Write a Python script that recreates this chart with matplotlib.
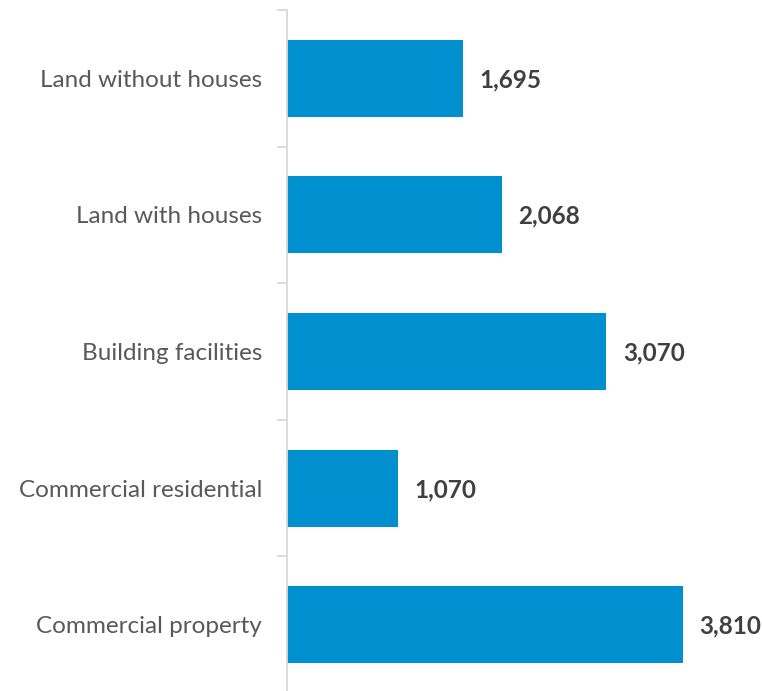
import numpy as np
import matplotlib
matplotlib.use("Agg")
import matplotlib.pyplot as plt

categories = ["Land without houses", "Land with houses", "Building facilities",
              "Commercial residential", "Commercial property"]
values = [1695, 2068, 3070, 1070, 3810]

plt.rcParams['font.family'] = ['Lato', 'DejaVu Sans']

fig = plt.figure(figsize=(7.62, 6.91), dpi=100)
ax = fig.add_axes([287 / 762, -2 / 691, 475 / 762, 683 / 691])

y = np.arange(len(categories))
ax.barh(y, values, height=0.564, color="#0090CF")
ax.set_ylim(len(categories) - 0.5, -0.5)
ax.set_xlim(0, 4570)

for yi, v in zip(y, values):
    ax.text(v + 160, yi + 0.01, f"{v:,}", va="center", ha="left",
            fontsize=17.5, fontweight="bold", color="#404040")

ax.set_yticks(y)
ax.set_yticklabels(categories, fontsize=17.5, color="#595959")
ax.set_yticks(np.arange(len(categories) + 1) - 0.5, minor=True)
ax.tick_params(axis="y", which="major", length=0, pad=18)
ax.tick_params(axis="y", which="minor", length=7, color="#D9D9D9", width=1.3)
ax.set_xticks([])
for s in ["top", "right", "bottom"]:
    ax.spines[s].set_visible(False)
ax.spines["left"].set_color("#D9D9D9")
ax.spines["left"].set_linewidth(1.3)

fig.savefig("out.png", dpi=100)
